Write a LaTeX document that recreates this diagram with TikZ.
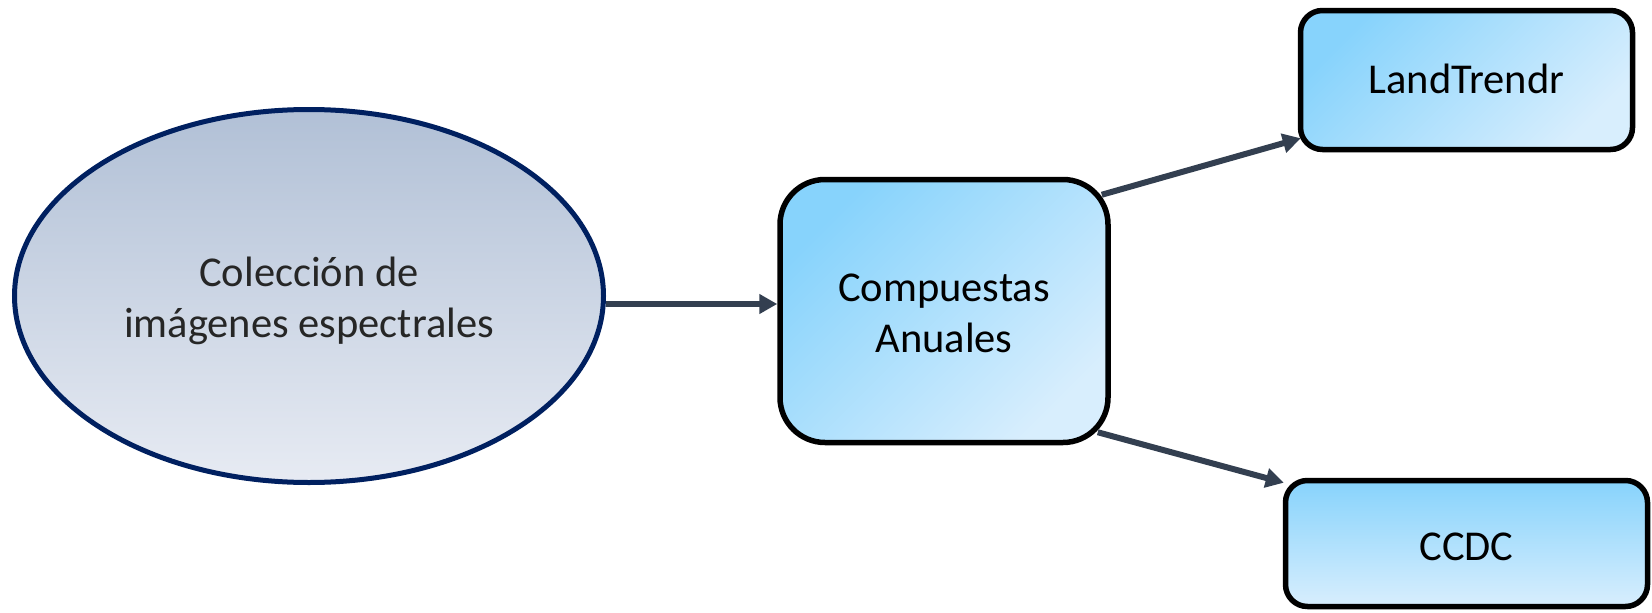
\documentclass[tikz,border=0pt]{standalone}
\usepackage{fontspec}
\setmainfont{Carlito}
\usetikzlibrary{arrows.meta,shapes.geometric}

\definecolor{skyTop}{HTML}{87D3FC}
\definecolor{skyBot}{HTML}{D8EEFD}
\definecolor{slateTop}{HTML}{B1C0D6}
\definecolor{slateBot}{HTML}{E7EBF3}
\definecolor{navy}{HTML}{002060}
\definecolor{linkcol}{HTML}{333F50}
\definecolor{inktext}{HTML}{262626}

\tikzset{
  caption/.style={font=\fontsize{42.5}{51}\selectfont, align=center, inner sep=0pt},
  source/.style={ellipse, draw=navy, line width=5pt, top color=slateTop,
    bottom color=slateBot, inner sep=0pt},
  procbox/.style={rectangle, draw=black, line width=5.5pt, rounded corners=#1,
    inner sep=0pt},
  diagshade/.style={top color=skyTop, bottom color=skyBot, shading angle=45},
  vertshade/.style={top color=skyTop, bottom color=skyBot},
  link/.style={draw=linkcol, line width=6pt,
    -{Triangle[length=18pt,width=19pt]}}
}

\begin{document}
\begin{tikzpicture}[x=1pt,y=-1pt]
\useasboundingbox (0,0) rectangle (1652,613);

% shapes
\node[source, minimum width=589pt, minimum height=373pt] (ell) at (309,296) {};
\node[procbox=45pt, diagshade, minimum width=328pt, minimum height=263pt] (comp) at (944,311) {};
\node[procbox=22pt, diagshade, minimum width=332pt, minimum height=139pt] (lt) at (1466.5,80) {};
\node[procbox=22pt, vertshade, minimum width=362pt, minimum height=126pt] (ccdc) at (1466.5,543.5) {};

% texts
\node[caption, text=inktext] (ellText) at ([yshift=-5pt]ell.center) {Colección de\\imágenes espectrales};
\node[caption] (compText) at ([yshift=-2pt]comp.center) {Compuestas\\Anuales};
\node[caption] (ltText) at ([yshift=1pt]lt.center) {LandTrendr};
\node[caption] (ccdcText) at ([yshift=-3pt]ccdc.center) {CCDC};

% connectors
\coordinate (e1) at ([yshift=-8pt]ell.east);
\draw[link] (e1) -- (e1 -| comp.west);
\draw[link] ([xshift=-9pt,yshift=-18pt]comp.north east) -- ([xshift=3pt,yshift=14pt]lt.south west);
\draw[link] ([xshift=-13pt,yshift=13pt]comp.south east) -- ([xshift=1pt,yshift=-5pt]ccdc.north west);
\end{tikzpicture}
\end{document}
